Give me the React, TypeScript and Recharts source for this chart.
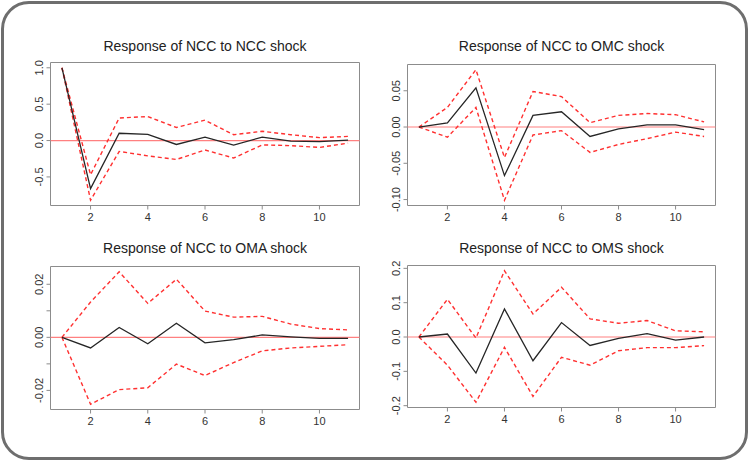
import React from "react";
import { LineChart, Line, XAxis, YAxis, ReferenceLine, CartesianGrid } from "recharts";

const periods = [1, 2, 3, 4, 5, 6, 7, 8, 9, 10, 11];
const xTicks = [2, 4, 6, 8, 10];

const nccIrf = [1.0, -0.66, 0.1, 0.085, -0.054, 0.048, -0.063, 0.048, -0.007, -0.015, 0.007];
const nccUpper = [1.0, -0.47, 0.31, 0.33, 0.18, 0.28, 0.08, 0.127, 0.08, 0.04, 0.057];
const nccLower = [1.0, -0.82, -0.15, -0.21, -0.26, -0.13, -0.24, -0.06, -0.07, -0.095, -0.035];

const omcIrf = [0, 0.0058, 0.054, -0.067, 0.016, 0.021, -0.013, -0.0025, 0.003, 0.003, -0.0035];
const omcUpper = [0, 0.027, 0.079, -0.042, 0.049, 0.042, 0.006, 0.016, 0.0186, 0.017, 0.007];
const omcLower = [0, -0.014, 0.027, -0.101, -0.011, -0.005, -0.035, -0.024, -0.016, -0.007, -0.013];

const omaIrf = [0, -0.004, 0.0037, -0.0024, 0.0053, -0.0021, -0.0009, 0.0009, 0.0002, -0.0004, -0.0004];
const omaUpper = [0, 0.0133, 0.0247, 0.0128, 0.0219, 0.0099, 0.0076, 0.0079, 0.005, 0.0033, 0.0028];
const omaLower = [0, -0.0252, -0.0197, -0.019, -0.0101, -0.0144, -0.0095, -0.0051, -0.004, -0.0034, -0.0028];

const omsIrf = [0, 0.0087, -0.105, 0.082, -0.069, 0.042, -0.0245, -0.004, 0.0096, -0.009, 0];
const omsUpper = [0, 0.11, -0.003, 0.193, 0.067, 0.145, 0.053, 0.04, 0.048, 0.018, 0.015];
const omsLower = [0, -0.082, -0.19, -0.03, -0.173, -0.059, -0.082, -0.04, -0.031, -0.031, -0.025];

const nccTicks = [-0.5, 0, 0.5, 1.0];
const nccTickLabels = ["-0.5", "0.0", "0.5", "1.0"];
const omcTicks = [-0.1, -0.05, 0, 0.05];
const omcTickLabels = ["-0.10", "-0.05", "0.00", "0.05"];
const omaTicks = [-0.02, -0.01, 0, 0.01, 0.02];
const omaTickLabels = ["-0.02", "", "0.00", "", "0.02"];
const omsTicks = [-0.2, -0.1, 0, 0.1, 0.2];
const omsTickLabels = ["-0.2", "-0.1", "0.0", "0.1", "0.2"];

const FONT = "'Liberation Sans', Arial, sans-serif";

type PanelProps = {
  title: string;
  irf: number[];
  upper: number[];
  lower: number[];
  ticks: number[];
  tickLabels: string[];
  left: number;
  top: number;
  margin: { top: number; right: number; bottom: number; left: number };
  titleY: number;
};

function Panel(p: PanelProps) {
  const data = periods.map((period, i) => ({
    period,
    irf: p.irf[i],
    upper: p.upper[i],
    lower: p.lower[i],
  }));
  const all = [...p.irf, ...p.upper, ...p.lower];
  const mn = Math.min(...all);
  const mx = Math.max(...all);
  const pad = (mx - mn) * 0.04;
  const yDomain: [number, number] = [mn - pad, mx + pad];
  const xDomain: [number, number] = [0.6, 11.4];
  const W = 375;
  const H = 231;
  const yAxisW = 30;
  const plotLeft = p.margin.left + yAxisW;
  const plotRight = W - p.margin.right;

  const YTick = (props: any) => {
    const { x, y, payload } = props;
    const idx = p.ticks.findIndex((t) => Math.abs(t - payload.value) < 1e-9);
    const label = idx >= 0 ? p.tickLabels[idx] : "";
    return (
      <text
        x={x}
        y={y}
        transform={`rotate(-90 ${x} ${y})`}
        textAnchor="middle"
        fontSize={11}
        fontFamily={FONT}
        fill="#333"
      >
        {label}
      </text>
    );
  };

  const XTick = (props: any) => {
    const { x, y, payload } = props;
    return (
      <text x={x} y={y + 9} textAnchor="middle" fontSize={11} fontFamily={FONT} fill="#333">
        {String(payload.value)}
      </text>
    );
  };

  return (
    <div style={{ position: "absolute", left: p.left, top: p.top, width: W, height: H }}>
      <div
        style={{
          position: "absolute",
          left: plotLeft,
          width: plotRight - plotLeft,
          top: p.titleY - 9,
          height: 18,
          lineHeight: "18px",
          textAlign: "center",
          fontFamily: FONT,
          fontSize: 14,
          color: "#222",
          whiteSpace: "nowrap",
        }}
      >
        {p.title}
      </div>
      <LineChart width={W} height={H} data={data} margin={p.margin}>
        <CartesianGrid
          stroke="#8c8c8c"
          strokeWidth={1}
          horizontalCoordinatesGenerator={(g: any) => [g.offset.top, g.offset.top + g.offset.height]}
          verticalCoordinatesGenerator={(g: any) => [g.offset.left, g.offset.left + g.offset.width]}
        />
        <XAxis
          dataKey="period"
          type="number"
          domain={xDomain}
          allowDataOverflow
          ticks={xTicks}
          interval={0}
          axisLine={false}
          tickSize={4}
          tickMargin={2}
          height={25}
          tickLine={{ stroke: "#8c8c8c" }}
          tick={<XTick />}
        />
        <YAxis
          type="number"
          domain={yDomain}
          allowDataOverflow
          ticks={p.ticks}
          interval={0}
          axisLine={false}
          width={yAxisW}
          tickSize={4}
          tickMargin={3}
          tickLine={{ stroke: "#8c8c8c" }}
          tick={<YTick />}
        />
        <ReferenceLine y={0} stroke="#ff8080" strokeWidth={1.2} />
        <Line
          type="linear"
          dataKey="upper"
          stroke="#ff3030"
          strokeWidth={1.4}
          strokeDasharray="4 3"
          dot={false}
          isAnimationActive={false}
        />
        <Line
          type="linear"
          dataKey="lower"
          stroke="#ff3030"
          strokeWidth={1.4}
          strokeDasharray="4 3"
          dot={false}
          isAnimationActive={false}
        />
        <Line
          type="linear"
          dataKey="irf"
          stroke="#262626"
          strokeWidth={1.3}
          dot={false}
          isAnimationActive={false}
        />
      </LineChart>
    </div>
  );
}

export default function App() {
  return (
    <div
      style={{
        position: "absolute",
        left: 0,
        top: 0,
        width: 750,
        height: 462,
        background: "#fff",
        overflow: "hidden",
      }}
    >
      <div
        style={{
          position: "absolute",
          left: 1,
          top: 1,
          width: 747,
          height: 459,
          boxSizing: "border-box",
          border: "3px solid #6e6e6e",
          borderRadius: 28,
        }}
      />
      <Panel
        title="Response of NCC to NCC shock"
        irf={nccIrf}
        upper={nccUpper}
        lower={nccLower}
        ticks={nccTicks}
        tickLabels={nccTickLabels}
        left={0}
        top={0}
        margin={{ top: 62.5, right: 15.5, bottom: 0.5, left: 20.5 }}
        titleY={46}
      />
      <Panel
        title="Response of NCC to OMC shock"
        irf={omcIrf}
        upper={omcUpper}
        lower={omcLower}
        ticks={omcTicks}
        tickLabels={omcTickLabels}
        left={375}
        top={0}
        margin={{ top: 64.5, right: 34.5, bottom: 0.5, left: 2.5 }}
        titleY={46}
      />
      <Panel
        title="Response of NCC to OMA shock"
        irf={omaIrf}
        upper={omaUpper}
        lower={omaLower}
        ticks={omaTicks}
        tickLabels={omaTickLabels}
        left={0}
        top={231}
        margin={{ top: 35.5, right: 15.5, bottom: 27.5, left: 20.5 }}
        titleY={17}
      />
      <Panel
        title="Response of NCC to OMS shock"
        irf={omsIrf}
        upper={omsUpper}
        lower={omsLower}
        ticks={omsTicks}
        tickLabels={omsTickLabels}
        left={375}
        top={231}
        margin={{ top: 34.5, right: 34.5, bottom: 29.5, left: 2.5 }}
        titleY={17}
      />
    </div>
  );
}
